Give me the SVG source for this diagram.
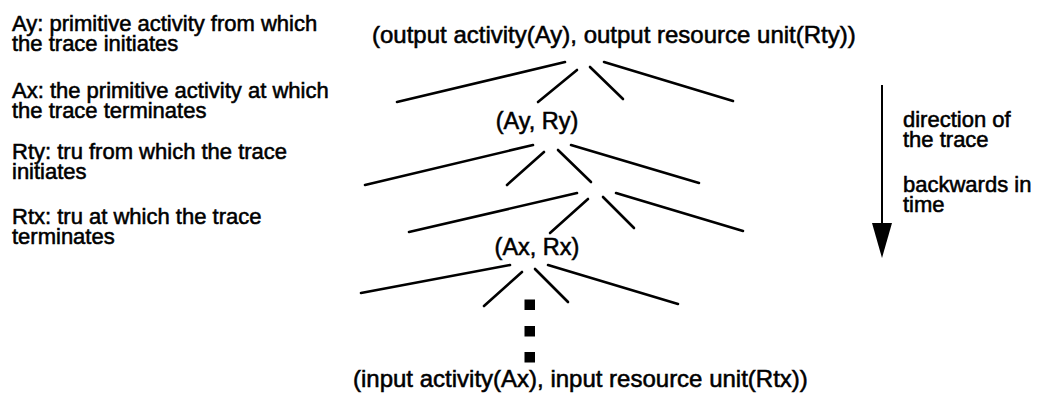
<svg xmlns="http://www.w3.org/2000/svg" width="1038" height="393" viewBox="0 0 1038 393">
<style>
text{font-family:"Liberation Sans",Arial,sans-serif;fill:#000;stroke:#000;stroke-width:0.55}
.leg{font-size:22px}
.node{font-size:24px}
.lbl{font-size:23.5px}
.conn line{stroke:#000;stroke-width:2.6;stroke-linecap:round}
</style>
<rect width="1038" height="393" fill="#fff"/>
<g id="legend">
<text class="leg" x="12" y="31">Ay: primitive activity from which<tspan x="12" dy="20">the trace initiates</tspan></text>
<text class="leg" x="12" y="98">Ax: the primitive activity at which<tspan x="12" dy="20">the trace terminates</tspan></text>
<text class="leg" x="12" y="159">Rty: tru from which the trace<tspan x="12" dy="20">initiates</tspan></text>
<text class="leg" x="12" y="224">Rtx: tru at which the trace<tspan x="12" dy="20">terminates</tspan></text>
</g>
<g id="node-output"><text class="node" x="372" y="43">(output activity(Ay), output resource unit(Rty))</text></g>
<g id="node-ay-ry"><text class="lbl" x="537" y="129" text-anchor="middle">(Ay, Ry)</text></g>
<g id="node-ax-rx"><text class="lbl" x="537" y="255" text-anchor="middle">(Ax, Rx)</text></g>
<g id="node-input"><text class="node" x="353" y="387">(input activity(Ax), input resource unit(Rtx))</text></g>
<g id="connectors" class="conn">
<line x1="565" y1="62" x2="397" y2="102"/>
<line x1="577" y1="70" x2="538" y2="102"/>
<line x1="590" y1="67" x2="623" y2="99"/>
<line x1="604" y1="62" x2="733" y2="101"/>
<line x1="533" y1="145" x2="365" y2="185"/>
<line x1="544" y1="152" x2="507" y2="185"/>
<line x1="558" y1="150" x2="591" y2="182"/>
<line x1="571" y1="145" x2="699" y2="183"/>
<line x1="577" y1="193" x2="409" y2="232"/>
<line x1="588" y1="199" x2="550" y2="233"/>
<line x1="603" y1="197" x2="634" y2="228"/>
<line x1="616" y1="193" x2="743" y2="231"/>
<line x1="510" y1="265" x2="361" y2="293"/>
<line x1="522" y1="272" x2="484" y2="306"/>
<line x1="535" y1="269" x2="568" y2="302"/>
<line x1="548" y1="265" x2="678" y2="304"/>
</g>
<g id="ellipsis" fill="#000">
<rect x="524.5" y="299.5" width="10.5" height="10.5"/>
<rect x="524.5" y="326" width="10.5" height="10.5"/>
<rect x="524.5" y="352" width="10.5" height="10.5"/>
</g>
<g id="direction-arrow">
<line x1="882" y1="85" x2="882" y2="226" stroke="#000" stroke-width="2"/>
<polygon points="872,223 892,223 882,258" fill="#000"/>
<text class="leg" x="903" y="127">direction of<tspan x="903" dy="20">the trace</tspan></text>
<text class="leg" x="903" y="192">backwards in<tspan x="903" dy="20">time</tspan></text>
</g>
</svg>
